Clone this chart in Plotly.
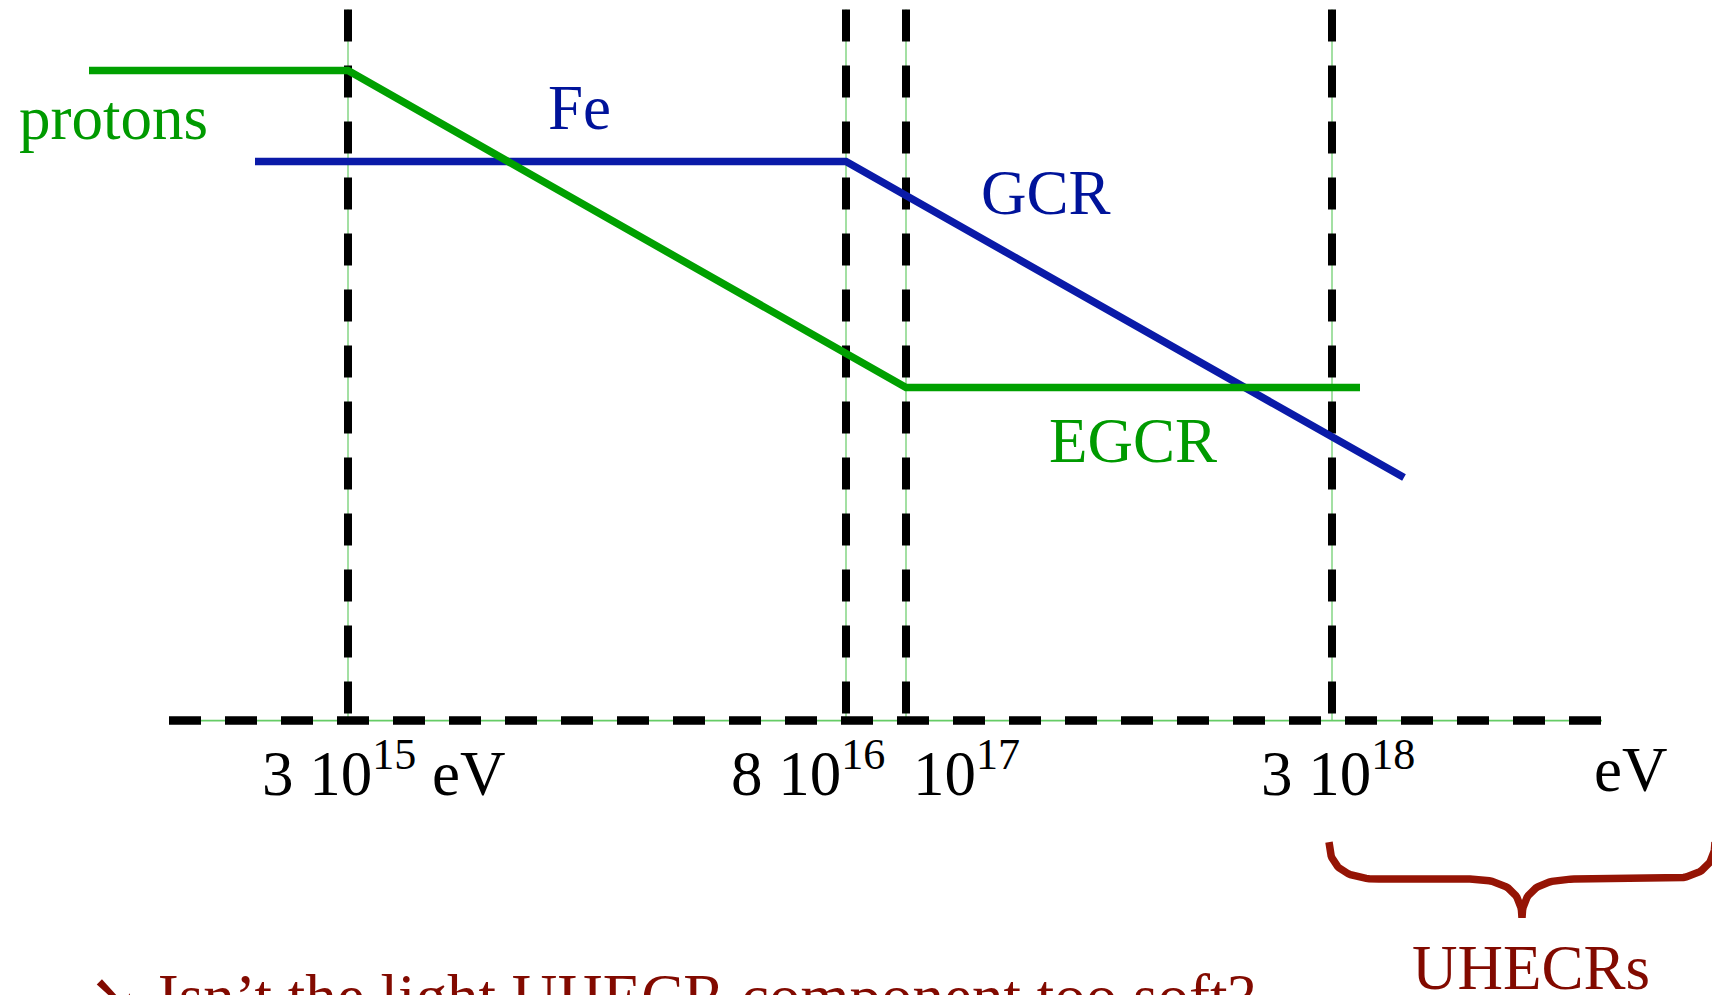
import numpy as np
import plotly.graph_objects as go

# ---- schematic data (1 unit = 100 px, y = 0 on the energy axis) ----
break_labels = ["3 10<sup>15</sup> eV", "8 10<sup>16</sup>", "10<sup>17</sup>", "3 10<sup>18</sup>"]
break_pos = [3.48, 8.46, 9.06, 13.32]
label_left = [2.60, 7.29, 9.11, 12.59]
unit_label = "eV"
unit_left = 15.92
axis_span = [1.69, 16.02]
vline_top = 7.11

protons_x = [0.89, 3.48, 9.06, 13.60]
protons_y = [6.50, 6.50, 3.33, 3.33]
fe_x = [2.55, 8.46, 14.04]
fe_y = [5.59, 5.59, 2.43]

series_labels = ["protons", "Fe", "GCR", "EGCR"]
series_label_x = [1.13, 5.79, 10.46, 11.33]
series_label_y = [6.03, 6.13, 5.28, 2.80]

brace_span = [13.29, 17.15]
brace_label = "UHECRs"
question = "➘ Isn’t the light UHECR component too soft?"

GREEN = "#00a000"
GREEN_TXT = "#009a00"
BLUE = "#0a1aa8"
BLUE_TXT = "#00139a"
RED = "#951405"
RED_TXT = "#820a00"
GUIDE = "#66cc66"
FONT = "Liberation Serif"

fig = go.Figure()

# thin green guide lines under the dashed lines
for xp in break_pos:
    fig.add_trace(go.Scatter(x=[xp, xp], y=[vline_top, 0], mode="lines",
                             line=dict(color=GUIDE, width=1.2), hoverinfo="skip", showlegend=False))
fig.add_trace(go.Scatter(x=axis_span, y=[0, 0], mode="lines",
                         line=dict(color=GUIDE, width=1.8), hoverinfo="skip", showlegend=False))

# dashed black lines
for xp in break_pos:
    fig.add_trace(go.Scatter(x=[xp, xp], y=[vline_top, 0], mode="lines",
                             line=dict(color="black", width=8, dash="32px,24px"),
                             hoverinfo="skip", showlegend=False))
fig.add_trace(go.Scatter(x=axis_span, y=[0, 0], mode="lines",
                         line=dict(color="black", width=8.5, dash="32px,24px"),
                         hoverinfo="skip", showlegend=False))

# spectra
fig.add_trace(go.Scatter(x=fe_x, y=fe_y, mode="lines",
                         line=dict(color=BLUE, width=7.5), showlegend=False))
fig.add_trace(go.Scatter(x=protons_x, y=protons_y, mode="lines",
                         line=dict(color=GREEN, width=7.5), showlegend=False))

# brace
def qbez(p0, p1, p2, n=30):
    t = np.linspace(0, 1, n)[:, None]
    return (1 - t) ** 2 * np.array(p0) + 2 * (1 - t) * t * np.array(p1) + t ** 2 * np.array(p2)

L, R = brace_span
C = (L + R) / 2
yt, ym, yb = -1.215, -1.585, -1.97
pts = np.vstack([
    qbez((L, yt), (L, ym), (L + 0.5, ym)),
    qbez((C - 0.52, ym), (C, ym), (C, yb)),
    qbez((C, yb), (C, ym), (C + 0.52, ym)),
    qbez((R - 0.5, ym), (R, ym), (R, yt)),
])
fig.add_trace(go.Scatter(x=pts[:, 0], y=pts[:, 1], mode="lines",
                         line=dict(color=RED, width=7.5), hoverinfo="skip", showlegend=False))

ann = []
colors = [GREEN_TXT, BLUE_TXT, BLUE_TXT, GREEN_TXT]
for t, x, y, c in zip(series_labels, series_label_x, series_label_y, colors):
    ann.append(dict(x=x, y=y, text=t, showarrow=False, xanchor="center", yanchor="middle",
                    font=dict(family=FONT, size=63, color=c)))
for t, x in zip(break_labels, label_left):
    ann.append(dict(x=x, y=-0.49, text=t, showarrow=False, xanchor="left", yanchor="middle",
                    font=dict(family=FONT, size=63, color="black")))
ann.append(dict(x=unit_left, y=-0.49, text=unit_label, showarrow=False, xanchor="left", yanchor="middle",
                font=dict(family=FONT, size=63, color="black")))
ann.append(dict(x=C + 0.09, y=-2.47, text=brace_label, showarrow=False, xanchor="center", yanchor="middle",
                font=dict(family=FONT, size=63, color=RED_TXT)))
ann.append(dict(x=0.87, yref="paper", y=-0.0025, text=question, showarrow=False,
                xanchor="left", yanchor="middle",
                font=dict(family=FONT, size=63, color=RED_TXT)))

fig.update_layout(
    width=1712, height=995,
    margin=dict(l=0, r=0, t=0, b=0),
    paper_bgcolor="white", plot_bgcolor="white",
    xaxis=dict(range=[0, 17.12], visible=False, fixedrange=True),
    yaxis=dict(range=[-2.744, 7.206], visible=False, fixedrange=True),
    annotations=ann,
    showlegend=False,
)

fig.write_html("out.html", config={"displayModeBar": False},
               post_script="document.body.style.margin='0';document.body.style.overflow='hidden';")
